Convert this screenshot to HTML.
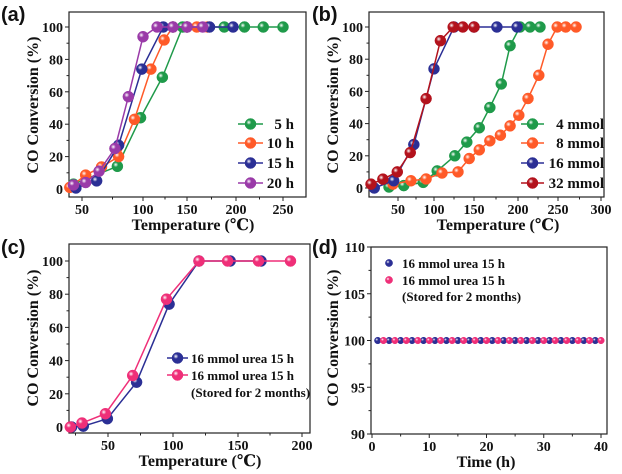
<!DOCTYPE html>
<html><head><meta charset="utf-8">
<style>
html,body{margin:0;padding:0;background:#fff;}
svg{display:block;}
text{font-family:"Liberation Serif","DejaVu Serif",serif;font-weight:bold;fill:#111;}
.pl{font-family:"Liberation Sans","DejaVu Sans",sans-serif;font-size:20px;}
</style></head>
<body>
<svg id="fig" width="622" height="474" viewBox="0 0 622 474" xmlns="http://www.w3.org/2000/svg">
<defs id="defs"></defs>
</svg>
<script>
// ---------- Panel (a) data ----------
const aXTicks=[50,100,150,200,250];
const aYTicks=[0,20,40,60,80,100];
const a5hX=[43,79,98,122,145,188,209,229,250];
const a5hY=[3,14,44,69,100,100,100,100,100];
const a10hX=[40,53,66,80,93,109,124,134,150,160,171];
const a10hY=[1,8.6,13.6,20,43,74,92,100,100,100,100];
const a15hX=[45,62,80,99,123,134,150,173,197];
const a15hY=[0.6,5,27,74,100,100,100,100,100];
const a20hX=[43,53,64,77,88,100,116,134,150,166];
const a20hY=[2.5,4,11,25,57,94,100,100,100,100];
const aLabels=["5 h","10 h","15 h","20 h"];
// ---------- Panel (b) data ----------
const bXTicks=[50,100,150,200,250,300];
const bYTicks=[0,20,40,60,80,100];
const b4X=[37.5,58,85,104,126,141,156,168,181,191,202.5,215,227.5];
const b4Y=[0.6,1.5,3.5,10.6,20,28.5,37.4,50,64.6,88.4,100,100,100];
const b8X=[43,68,89,110,130,144,156,168,180,191,201,212.5,226,237.5,249,259,271];
const b8Y=[2.4,4.5,5.6,9.3,10,18.3,23.7,29.3,32.8,38.6,45.2,55.6,70,89.3,100,100,100];
const b16X=[17,44,72,100,125,150,176,199];
const b16Y=[0,4.5,27,74,100,100,100,100];
const b32X=[12.5,29,49,67,89,108,124,136,150];
const b32Y=[2.4,5.5,10,22,55.5,91.5,100,100,100];
const bLabels=["4 mmol","8 mmol","16 mmol","32 mmol"];
// ---------- Panel (c) data ----------
const cXTicks=[50,100,150,200];
const cYTicks=[0,20,40,60,80,100];
const cFreshX=[22,31,49.5,72,97,120,144,168];
const cFreshY=[0,0.5,5,27,74,100,100,100];
const cStoredX=[21,30,48,69,95,120,142,166,191];
const cStoredY=[0,2.4,8,31,77,100,100,100,100];
// ---------- Panel (d) data ----------
const dXTicks=[0,10,20,30,40];
const dYTicks=[90,95,100,105,110];
const dFreshT=[1,3,5,7,9,11,13,15,17,19,21,23,25,27,29,31,33,35,37,39];
const dFreshY=[100,100,100,100,100,100,100,100,100,100,100,100,100,100,100,100,100,100,100,100];
const dStoredT=[2,4,6,8,10,12,14,16,18,20,22,24,26,28,30,32,34,36,38,40];
const dStoredY=[100,100,100,100,100,100,100,100,100,100,100,100,100,100,100,100,100,100,100,100];

const NS="http://www.w3.org/2000/svg";
const svg=document.getElementById('fig');
const defs=document.getElementById('defs');
function mk(tag,attrs,parent){const e=document.createElementNS(NS,tag);for(const k in attrs)e.setAttribute(k,attrs[k]);(parent||svg).appendChild(e);return e;}
function pw(dom,rng){return v=>{let i=0;if(v<=dom[0])i=0;else if(v>=dom[dom.length-1])i=dom.length-2;else{while(v>dom[i+1])i++;}return rng[i]+(v-dom[i])*(rng[i+1]-rng[i])/(dom[i+1]-dom[i]);};}
const colors={green:'#1f9a4a',orange:'#ff5a28',blue:'#2b2f95',purple:'#9a3aa8',red:'#b3121c',pink:'#ef2f78'};
for(const c in colors){const g=mk('radialGradient',{id:'g-'+c,cx:'35%',cy:'35%',r:'65%'},defs);mk('stop',{offset:'0','stop-color':'#ffffff'},g);mk('stop',{offset:'0.35','stop-color':colors[c]},g);mk('stop',{offset:'1','stop-color':colors[c]},g);}

function axes(p){
  const g=mk('g',{});
  
  
  const b=p.box;
  const frame=mk('rect',{x:b.l,y:b.t,width:b.r-b.l,height:b.b-b.t,fill:'none',stroke:'#222','stroke-width':1.2},g);
  
  
  p.xt.forEach(v=>{const x=p.sx(v);mk('line',{x1:x,x2:x,y1:b.b,y2:b.b+4,stroke:'#222'},g);
    const t=mk('text',{x:x,y:b.b+17,'text-anchor':'middle','font-size':14},g);t.textContent=v;
    
    });
  p.xm.forEach(v=>{const x=p.sx(v);if(x>b.l&&x<b.r)mk('line',{x1:x,x2:x,y1:b.b,y2:b.b+2.5,stroke:'#222'},g);});
  p.yt.forEach(v=>{const y=p.sy(v);mk('line',{x1:b.l-4,x2:b.l,y1:y,y2:y,stroke:'#222'},g);
    const t=mk('text',{x:b.l-6,y:y+5,'text-anchor':'end','font-size':14},g);t.textContent=v;
    
    });
  p.ym.forEach(v=>{const y=p.sy(v);mk('line',{x1:b.l-2.5,x2:b.l,y1:y,y2:y,stroke:'#222'},g);});
  const xt=mk('text',{x:p.xtx,y:b.b+33,'text-anchor':'middle','font-size':16},g);xt.textContent=p.xtitle;
  
  
  const yt=mk('text',{x:0,y:0,'text-anchor':'middle','font-size':16,transform:`translate(${p.ytx},${p.yty}) rotate(-90)`},g);yt.textContent='CO Conversion (%)';
  
  
  const pl=mk('text',{x:p.plx,y:p.ply,'class':'pl'},g);pl.textContent=p.label;
  
  
}
function series(p,xs,ys,color,name,line,r){
  const g=mk('g',{});
  
  
  if(line){const pts=xs.map((x,i)=>p.sx(x)+','+p.sy(ys[i])).join(' ');
    const pl=mk('polyline',{points:pts,fill:'none',stroke:colors[color],'stroke-width':1.5},g);
    
    }
  xs.forEach((x,i)=>{const c=mk('circle',{cx:p.sx(x),cy:p.sy(ys[i]),r:r,fill:`url(#g-${color})`,stroke:colors[color],'stroke-width':0.5},g);
    
    });
}
function legend(items,x1,x2,tx,anchor,fs,line,r,extra){
  const g=mk('g',{});
  
  
  items.forEach(it=>{
    const e=mk('g',{},g);
    
    
    if(line)mk('line',{x1:x1,x2:x2,y1:it.y,y2:it.y,stroke:colors[it.c],'stroke-width':1.5},e);
    mk('circle',{cx:(x1+x2)/2,cy:it.y,r:r,fill:`url(#g-${it.c})`,stroke:colors[it.c],'stroke-width':0.5},e);
    const t=mk('text',{x:tx,y:it.y+5,'text-anchor':anchor,'font-size':fs},e);t.textContent=it.t;
  });
  if(extra){const t=mk('text',{x:extra.x,y:extra.y,'font-size':fs},g);t.textContent=extra.t;
    
    }
}
function ylin(v0,p0,v1,p1){return v=>p0+(v-v0)*(p1-p0)/(v1-v0);}

const pa={name:'panel-a',box:{l:69,r:306,t:12,b:197},sx:pw(aXTicks,[82,143,187,236,283]),sy:ylin(0,189,100,27),
 xt:aXTicks,xm:[75,125,175,225],yt:aYTicks,ym:[10,30,50,70,90],xtitle:'Temperature (℃)',xtx:193,ytx:38,yty:105,label:'(a)',plx:1,ply:21};
axes(pa);
series(pa,a5hX,a5hY,'green','series-5h',true,5.5);
series(pa,a10hX,a10hY,'orange','series-10h',true,5.5);
series(pa,a15hX,a15hY,'blue','series-15h',true,5.5);
series(pa,a20hX,a20hY,'purple','series-20h',true,5.5);
legend([{c:'green',t:aLabels[0],y:124},{c:'orange',t:aLabels[1],y:143},{c:'blue',t:aLabels[2],y:163},{c:'purple',t:aLabels[3],y:183}],238,263,294,'end',15,true,5.5);

const pb={name:'panel-b',box:{l:369,r:604,t:12,b:197},sx:pw(bXTicks,[398,434,474,518,558,601]),sy:ylin(0,188,100,27),
 xt:bXTicks,xm:[75,125,175,225,275],yt:bYTicks,ym:[10,30,50,70,90],xtitle:'Temperature (℃)',xtx:498,ytx:338,yty:105,label:'(b)',plx:312,ply:21};
axes(pb);
series(pb,b4X,b4Y,'green','series-4mmol',true,5.5);
series(pb,b8X,b8Y,'orange','series-8mmol',true,5.5);
series(pb,b16X,b16Y,'blue','series-16mmol',true,5.5);
series(pb,b32X,b32Y,'red','series-32mmol',true,5.5);
legend([{c:'green',t:bLabels[0],y:124},{c:'orange',t:bLabels[1],y:143},{c:'blue',t:bLabels[2],y:163},{c:'red',t:bLabels[3],y:183}],521,544,604,'end',15,true,5.5);

const pc={name:'panel-c',box:{l:69,r:310,t:244,b:433},sx:pw(cXTicks,[108,173,238,302]),sy:ylin(0,427,100,261),
 xt:cXTicks,xm:[25,75,125,175],yt:cYTicks,ym:[10,30,50,70,90],xtitle:'Temperature (℃)',xtx:200,ytx:38,yty:338,label:'(c)',plx:1,ply:254};
axes(pc);
series(pc,cFreshX,cFreshY,'blue','series-fresh',true,5.5);
series(pc,cStoredX,cStoredY,'pink','series-stored',true,5.5);
legend([{c:'blue',t:'16 mmol urea 15 h',y:358},{c:'pink',t:'16 mmol urea 15 h',y:375}],167,188,191,'start',13,true,5.5,{x:191,y:397,t:'(Stored for 2 months)'});

const pd={name:'panel-d',box:{l:371,r:607,t:247,b:434},sx:pw([0,40],[372,601]),sy:ylin(90,434,110,247),
 xt:dXTicks,xm:[5,15,25,35],yt:dYTicks,ym:[92.5,97.5,102.5,107.5],xtitle:'Time (h)',xtx:486,ytx:338,yty:338,label:'(d)',plx:312,ply:254};
axes(pd);
series(pd,dFreshT,dFreshY,'blue','series-fresh-stability',false,3.3);
series(pd,dStoredT,dStoredY,'pink','series-stored-stability',false,3.3);
legend([{c:'blue',t:'16 mmol urea 15 h',y:263},{c:'pink',t:'16 mmol urea 15 h',y:280}],386,392,402,'start',13,false,3.6,{x:402,y:301,t:'(Stored for 2 months)'});
</script>
</body></html>
